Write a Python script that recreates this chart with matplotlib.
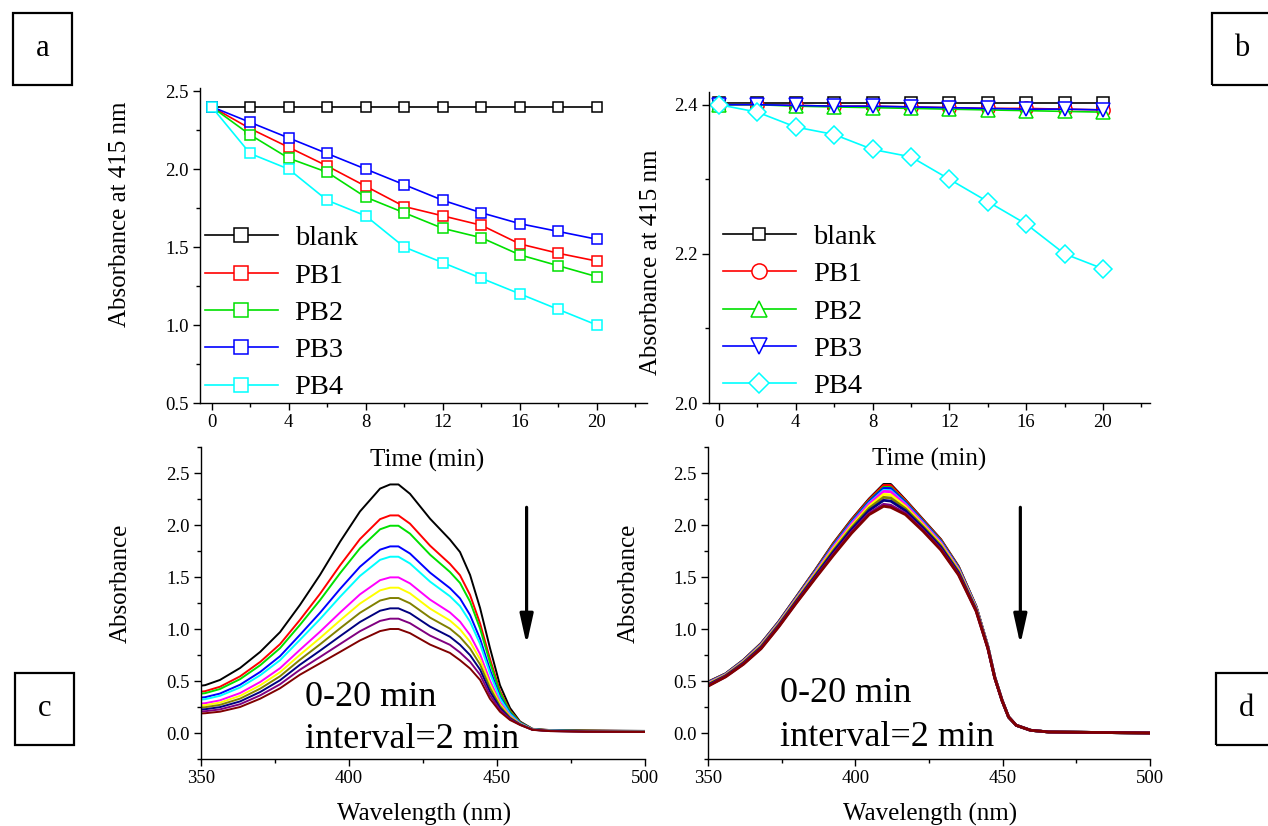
import numpy as np
import matplotlib
matplotlib.use("Agg")
import matplotlib.pyplot as plt
from matplotlib.patches import Rectangle
from matplotlib.ticker import MultipleLocator, FormatStrFormatter

plt.rcParams['font.family'] = ['Liberation Serif', 'DejaVu Serif']

W, H = 1268, 826

# ---- data: absorbance at 415 nm vs time ----
time = [0, 2, 4, 6, 8, 10, 12, 14, 16, 18, 20]
names = ["blank", "PB1", "PB2", "PB3", "PB4"]

a_blank = [2.40, 2.40, 2.40, 2.40, 2.40, 2.40, 2.40, 2.40, 2.40, 2.40, 2.40]
a_pb1 = [2.40, 2.26, 2.14, 2.02, 1.89, 1.76, 1.70, 1.64, 1.52, 1.46, 1.41]
a_pb2 = [2.40, 2.22, 2.07, 1.98, 1.82, 1.72, 1.62, 1.56, 1.45, 1.38, 1.31]
a_pb3 = [2.40, 2.30, 2.20, 2.10, 2.00, 1.90, 1.80, 1.72, 1.65, 1.60, 1.55]
a_pb4 = [2.40, 2.10, 2.00, 1.80, 1.70, 1.50, 1.40, 1.30, 1.20, 1.10, 1.00]

b_blank = [2.402, 2.402, 2.402, 2.402, 2.402, 2.402, 2.402, 2.402, 2.402, 2.402, 2.402]
b_pb1 = [2.400, 2.400, 2.399, 2.398, 2.398, 2.397, 2.396, 2.395, 2.395, 2.394, 2.393]
b_pb2 = [2.400, 2.400, 2.398, 2.397, 2.396, 2.395, 2.394, 2.393, 2.392, 2.391, 2.390]
b_pb3 = [2.400, 2.400, 2.399, 2.398, 2.398, 2.397, 2.396, 2.395, 2.394, 2.394, 2.393]
b_pb4 = [2.40, 2.39, 2.37, 2.36, 2.34, 2.33, 2.30, 2.27, 2.24, 2.20, 2.18]

# ---- data: spectra (first and last scan) ----
wl_c = [350, 351.4, 356.4, 363.2, 370, 376.7, 383.4, 390.2, 397, 403.7, 410.5,
        413.9, 416.7, 420.6, 427.4, 434.1, 437.5, 440.9, 444.3, 447.6, 451,
        454.4, 457.8, 462, 468, 480, 500]
c_first = [0.455, 0.46, 0.51, 0.625, 0.78, 0.97, 1.23, 1.52, 1.84, 2.13, 2.35,
           2.39, 2.39, 2.30, 2.06, 1.86, 1.74, 1.52, 1.20, 0.82, 0.46, 0.24,
           0.11, 0.04, 0.028, 0.025, 0.02]
c_last = [0.188, 0.19, 0.205, 0.25, 0.33, 0.43, 0.56, 0.67, 0.78, 0.89, 0.98,
          1.00, 1.00, 0.96, 0.85, 0.77, 0.70, 0.62, 0.51, 0.33, 0.205, 0.125,
          0.077, 0.03, 0.018, 0.012, 0.01]

wl_d = [350, 356, 362, 368, 374, 380, 386.5, 392.6, 398.7, 404.7, 409.6, 412,
        417, 423, 429, 435, 441, 445, 447.3, 449.8, 452, 454.6, 459.5, 465.6, 500]
d_first = [0.49, 0.57, 0.70, 0.86, 1.07, 1.31, 1.57, 1.825, 2.05, 2.25, 2.39,
           2.39, 2.24, 2.05, 1.86, 1.60, 1.215, 0.83, 0.54, 0.315, 0.154, 0.074,
           0.026, 0.01, 0.0]
d_last = [0.45, 0.54, 0.66, 0.81, 1.02, 1.25, 1.49, 1.71, 1.92, 2.10, 2.18,
          2.17, 2.10, 1.94, 1.76, 1.52, 1.17, 0.81, 0.53, 0.31, 0.154, 0.074,
          0.026, 0.01, 0.0]

scan_colors = ["black", "red", "#00E000", "blue", "#00FFFF", "#FF00FF",
               "#FFFF00", "#808000", "#000080", "#800080", "#800000"]
series_colors = ["black", "red", "#00E000", "blue", "#00FFFF"]


def ax_px(l, t, r, b):
    return fig.add_axes([l / W, 1 - b / H, (r - l) / W, (b - t) / H])


def style(ax):
    for s in ["top", "right"]:
        ax.spines[s].set_visible(False)
    for s in ["left", "bottom"]:
        ax.spines[s].set_linewidth(1.0)
    ax.tick_params(which="both", direction="out", width=1, labelsize=13.5, pad=3)
    ax.tick_params(which="major", length=5)
    ax.tick_params(which="minor", length=3)


def box_label(l, t, r, b, letter):
    fig.add_artist(Rectangle((l / W, 1 - b / H), (r - l) / W, (b - t) / H,
                             transform=fig.transFigure, fill=False,
                             lw=1.6, ec="black"))
    fig.text((l + r) / 2 / W, 1 - (t + b) / 2 / H, letter, fontsize=22,
             ha="center", va="center")


def blend(first, last, peaks):
    # intermediate scans follow the peak values of the time series
    first = np.array(first)
    last = np.array(last)
    out = []
    for p in peaks:
        f = (p - peaks[-1]) / (peaks[0] - peaks[-1])
        out.append(last + f * (first - last))
    return out


fig = plt.figure(figsize=(W / 100, H / 100), dpi=100)

legend_kw = dict(loc="lower left", frameon=False, fontsize=20.5,
                 handlelength=2.55, handletextpad=0.6, labelspacing=0.4,
                 borderpad=0, borderaxespad=0)

# ---- panel a ----
ax = ax_px(200, 88, 647, 403)
for ys, c, n in zip([a_blank, a_pb1, a_pb2, a_pb3, a_pb4], series_colors, names):
    ax.plot(time, ys, color=c, lw=1.2, marker="s", ms=7.5, mfc="white",
            mec=c, mew=1.1, label=n)
ax.set_xlim(-0.6, 22.6)
ax.set_ylim(0.5, 2.52)
ax.xaxis.set_major_locator(MultipleLocator(4))
ax.xaxis.set_minor_locator(MultipleLocator(2))
ax.yaxis.set_major_locator(MultipleLocator(0.5))
ax.yaxis.set_minor_locator(MultipleLocator(0.25))
ax.yaxis.set_major_formatter(FormatStrFormatter("%.1f"))
style(ax)
ax.set_xlabel("Time (min)", fontsize=18)
ax.set_ylabel("Absorbance at 415 nm", fontsize=18)
ax.xaxis.set_label_coords(0.508, -0.145)
ax.yaxis.set_label_coords(-0.154, 0.60)
ax.legend(bbox_to_anchor=(0.011, 0.008), markerscale=1.25, **legend_kw)

# ---- panel b ----
ax = ax_px(709, 92, 1150, 403)
markers = ["s", "o", "^", "v", "D"]
sizes = [8, 9.5, 9.5, 9.5, 9]
for ys, c, n, m, s in zip([b_blank, b_pb1, b_pb2, b_pb3, b_pb4], series_colors,
                          names, markers, sizes):
    ax.plot(time, ys, color=c, lw=1.2, marker=m, ms=s, mfc="white",
            mec=c, mew=1.1, label=n)
ax.set_xlim(-0.52, 22.45)
ax.set_ylim(2.0, 2.417)
ax.xaxis.set_major_locator(MultipleLocator(4))
ax.xaxis.set_minor_locator(MultipleLocator(2))
ax.yaxis.set_major_locator(MultipleLocator(0.2))
ax.yaxis.set_minor_locator(MultipleLocator(0.1))
ax.yaxis.set_major_formatter(FormatStrFormatter("%.1f"))
style(ax)
ax.set_xlabel("Time (min)", fontsize=18)
ax.set_ylabel("Absorbance at 415 nm", fontsize=18)
ax.xaxis.set_label_coords(0.50, -0.145)
ax.yaxis.set_label_coords(-0.106, 0.453)
ax.legend(bbox_to_anchor=(0.032, 0.012), markerscale=1.15, **legend_kw)

# ---- panels c and d ----
for (l, r), wl, first, last, peaks, lw, tx, ty, arx in [
        ((201, 645), wl_c, c_first, c_last, a_pb4, 1.4, 385.1, (0.26, -0.144), 460),
        ((708, 1150), wl_d, d_first, d_last, b_pb4, 2.0, 374.4, (0.30, -0.125), 456)]:
    ax = ax_px(l, 447, r, 759)
    ax.patch.set_visible(False)
    for ys, c in zip(blend(first, last, peaks), scan_colors):
        ax.plot(wl, ys, color=c, lw=lw)
    ax.set_xlim(350, 500)
    ax.set_ylim(-0.25, 2.75)
    ax.xaxis.set_major_locator(MultipleLocator(50))
    ax.xaxis.set_minor_locator(MultipleLocator(25))
    ax.yaxis.set_minor_locator(MultipleLocator(0.25))
    ax.set_yticks([0.0, 0.5, 1.0, 1.5, 2.0, 2.5])
    ax.yaxis.set_major_formatter(FormatStrFormatter("%.1f"))
    style(ax)
    ax.set_xlabel("Wavelength (nm)", fontsize=18)
    ax.set_ylabel("Absorbance", fontsize=18)
    ax.xaxis.set_label_coords(0.503, -0.142)
    ax.yaxis.set_label_coords(-0.155, 0.564)
    ax.annotate("", xy=(arx, 0.85), xytext=(arx, 2.17),
                arrowprops=dict(arrowstyle="-|>,head_length=0.9,head_width=0.2",
                                lw=2.3, color="black", mutation_scale=20,
                                shrinkA=0, shrinkB=0))
    ax.text(tx, ty[0], "0-20 min", fontsize=26, va="baseline")
    ax.text(tx, ty[1], "interval=2 min", fontsize=26, va="baseline")

box_label(13, 13, 72, 85, "a")
box_label(1212, 13, 1272, 85, "b")
box_label(15, 673, 74, 745, "c")
box_label(1216, 673, 1276, 745, "d")

fig.savefig("out.png", dpi=100)
